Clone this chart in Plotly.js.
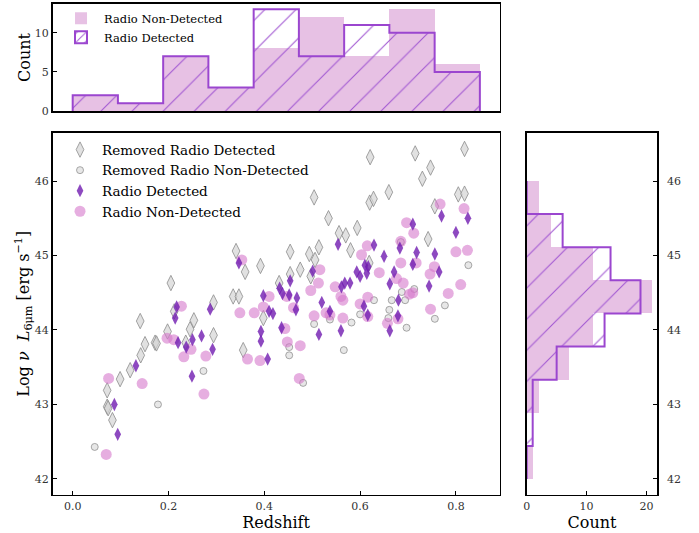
<!DOCTYPE html>
<html><head><meta charset="utf-8">
<script src="https://cdn.plot.ly/plotly-3.0.1.min.js"></script>
<style>html,body{margin:0;padding:0;background:#fff}</style>
</head><body><div id="chart" style="width:699px;height:533px"></div>
<script>
// Radio Detected (purple diamonds)
const detZ = [0.094,0.087,0.132,0.217,0.214,0.220,0.237,0.250,0.249,0.269,0.287,0.292,0.347,0.393,0.393,0.398,0.410,0.418,0.407,0.432,0.436,0.454,0.438,0.452,0.468,0.466,0.501,0.514,0.520,0.537,0.554,0.560,0.568,0.579,0.561,0.610,0.617,0.593,0.600,0.614,0.608,0.616,0.629,0.650,0.662,0.671,0.680,0.679,0.662,0.683,0.710,0.710,0.718,0.744,0.756,0.765,0.770,0.800,0.825];
const detL = [42.60,43.00,43.52,44.31,44.16,43.83,43.77,43.87,43.38,43.92,44.28,43.74,44.90,43.98,43.85,44.46,44.25,44.22,43.61,44.56,44.03,44.66,44.49,44.47,44.43,44.27,44.79,43.94,44.37,44.25,45.15,43.99,44.63,44.63,44.58,44.87,44.85,44.78,44.72,44.76,44.32,44.20,45.14,44.99,44.62,44.78,44.40,44.19,43.99,45.10,44.88,45.42,45.04,44.59,45.02,44.78,45.53,45.31,45.50];
// Radio Non-Detected (pink circles)
const nonZ = [0.070,0.075,0.145,0.227,0.197,0.211,0.247,0.232,0.274,0.278,0.353,0.349,0.379,0.398,0.410,0.365,0.391,0.443,0.448,0.475,0.473,0.447,0.461,0.504,0.529,0.497,0.513,0.516,0.548,0.564,0.564,0.615,0.603,0.600,0.616,0.640,0.657,0.685,0.685,0.697,0.712,0.717,0.676,0.690,0.703,0.746,0.755,0.747,0.767,0.817,0.800,0.824,0.784,0.810,0.537,0.560,0.616,0.679,0.710];
const nonL = [42.33,43.35,43.28,44.32,43.89,43.87,43.74,43.64,43.14,43.65,44.94,44.23,44.23,44.31,44.45,43.61,43.59,44.02,43.84,43.79,43.35,44.45,44.30,44.19,44.23,44.53,44.63,44.81,44.58,44.40,44.16,45.13,45.01,44.35,44.44,44.77,44.09,45.19,44.90,45.44,45.30,44.90,44.69,44.63,44.48,44.75,44.85,44.28,45.69,45.63,45.05,45.07,44.49,44.61,44.20,44.45,44.18,44.15,44.50];
// Removed Radio Detected (grey diamonds)
const remDetZ = [0.072,0.074,0.083,0.072,0.099,0.120,0.142,0.151,0.172,0.175,0.141,0.198,0.205,0.212,0.245,0.253,0.236,0.294,0.294,0.335,0.347,0.341,0.360,0.392,0.398,0.356,0.431,0.454,0.454,0.475,0.494,0.506,0.514,0.497,0.504,0.534,0.556,0.570,0.580,0.594,0.620,0.628,0.621,0.619,0.660,0.715,0.747,0.730,0.756,0.742,0.805,0.818,0.818];
const remDetL = [42.97,42.95,42.79,43.19,43.34,43.46,43.66,43.81,43.83,43.82,44.12,43.98,44.63,44.25,44.01,44.13,43.83,44.37,43.93,44.45,44.45,45.06,44.78,44.86,44.16,43.73,44.63,45.05,44.75,44.81,45.02,44.94,45.11,44.72,45.78,45.50,45.30,45.27,45.07,45.37,45.71,45.76,46.32,44.90,45.85,46.37,46.18,46.03,45.66,45.22,45.82,45.83,46.43];
// Removed Radio Non-Detected (grey circles)
const remNonZ = [0.046,0.178,0.273,0.452,0.452,0.481,0.504,0.537,0.582,0.566,0.629,0.600,0.661,0.659,0.666,0.694,0.697,0.687,0.713,0.777,0.756,0.826,0.685];
const remNonL = [42.43,43.00,43.45,43.77,43.66,43.29,44.08,44.14,44.10,43.73,44.40,44.21,44.27,44.16,44.40,44.40,44.03,44.51,44.55,44.33,44.15,44.87,45.18];

// Histograms (counts)
const zEdges = [0, 0.0944, 0.1889, 0.2833, 0.3778, 0.4722, 0.5667, 0.6611, 0.7556, 0.85];
const zCountsNon = [2, 1, 7, 3, 8, 12, 7, 13, 6];
const zCountsDet = [2, 1, 7, 3, 13, 7, 11, 10, 5];
const lEdges = [42, 42.444, 42.889, 43.333, 43.778, 44.222, 44.667, 45.111, 45.556, 46];
const lCountsNon = [1, 0, 2, 7, 11, 21, 11, 4, 2];
const lCountsDet = [0, 1, 1, 5, 13, 19, 14, 6, 0];

const SERIF = 'DejaVu Serif, serif';
const PINK_FILL = 'rgba(218,160,214,0.65)';
const OUTLINE = '#9b46cf';
const HATCH = '#a158d2';

function mids(e){ const m=[]; for(let i=0;i<e.length-1;i++) m.push((e[i]+e[i+1])/2); return m; }
function widths(e){ const w=[]; for(let i=0;i<e.length-1;i++) w.push(e[i+1]-e[i]); return w; }

// step outline for top histogram (hv)
const topStepX = [zEdges[0]], topStepY = [0];
for (let i=0;i<zCountsDet.length;i++){ topStepX.push(zEdges[i]); topStepY.push(zCountsDet[i]); }
topStepX.push(zEdges[zEdges.length-1]); topStepY.push(0);
// step outline for right histogram (vh)
const rStepX = [0], rStepY = [lEdges[0]];
for (let i=0;i<lCountsDet.length;i++){ rStepX.push(lCountsDet[i]); rStepY.push(lEdges[i]); }
rStepX.push(0); rStepY.push(lEdges[lEdges.length-1]);

const pattern = {shape:'/', size:22, solidity:0.05, fillmode:'replace'};

const traces = [
  {type:'scatter', mode:'markers', x:remDetZ, y:remDetL, name:'Removed Radio Detected', legend:'legend', legendrank:1,
   marker:{symbol:'diamond-tall', size:11, color:'rgba(212,212,212,0.7)', line:{color:'rgba(140,140,140,0.8)', width:1}}},
  {type:'scatter', mode:'markers', x:remNonZ, y:remNonL, name:'Removed Radio Non-Detected', legend:'legend', legendrank:2,
   marker:{symbol:'circle', size:7, color:'rgba(215,215,215,0.6)', line:{color:'rgba(140,140,140,0.75)', width:1}}},
  {type:'scatter', mode:'markers', x:nonZ, y:nonL, name:'Radio Non-Detected', legend:'legend', legendrank:4,
   marker:{symbol:'circle', size:11, color:'rgba(214,120,204,0.6)', line:{width:0}}},
  {type:'scatter', mode:'markers', x:detZ, y:detL, name:'Radio Detected', legend:'legend', legendrank:3,
   marker:{symbol:'diamond-tall', size:9.5, color:'rgba(112,28,176,0.8)', line:{width:0}}},

  // top histogram
  {type:'bar', x:mids(zEdges), y:zCountsNon, width:widths(zEdges), xaxis:'x2', yaxis:'y2',
   name:'Radio Non-Detected', legend:'legend2', legendrank:1, marker:{color:PINK_FILL, line:{width:0}}},
  {type:'bar', x:mids(zEdges), y:zCountsDet, width:widths(zEdges), xaxis:'x2', yaxis:'y2', showlegend:false,
   marker:{color:HATCH, line:{width:0}, pattern:pattern}},
  {type:'scatter', mode:'lines', x:topStepX, y:topStepY, xaxis:'x2', yaxis:'y2', showlegend:false,
   line:{shape:'hv', color:OUTLINE, width:2}, hoverinfo:'skip'},
  {type:'bar', x:[null], y:[null], xaxis:'x2', yaxis:'y2', name:'Radio Detected', legend:'legend2', legendrank:2,
   marker:{color:HATCH, line:{color:OUTLINE, width:2}, pattern:{shape:'/', size:8, solidity:0.15, fillmode:'replace'}}},

  // right histogram
  {type:'bar', orientation:'h', y:mids(lEdges), x:lCountsNon, width:widths(lEdges), xaxis:'x3', yaxis:'y3', showlegend:false,
   marker:{color:PINK_FILL, line:{width:0}}},
  {type:'bar', orientation:'h', y:mids(lEdges), x:lCountsDet, width:widths(lEdges), xaxis:'x3', yaxis:'y3', showlegend:false,
   marker:{color:HATCH, line:{width:0}, pattern:pattern}},
  {type:'scatter', mode:'lines', x:rStepX, y:rStepY, xaxis:'x3', yaxis:'y3', showlegend:false,
   line:{shape:'vh', color:OUTLINE, width:2}, hoverinfo:'skip'}
];

const axBase = {showline:true, linecolor:'#000', linewidth:1.5, mirror:true, ticks:'inside', ticklen:4, tickwidth:1, tickcolor:'#000',
  showgrid:false, zeroline:false, tickfont:{family:SERIF, size:11, color:'#333'}, automargin:false};

const layout = {
  width:699, height:533, margin:{l:0,r:0,t:0,b:0}, paper_bgcolor:'#fff', plot_bgcolor:'#fff',
  showlegend:true, barmode:'overlay', bargap:0,
  font:{family:SERIF, color:'#000'},
  xaxis: Object.assign({}, axBase, {domain:[0.0752,0.7146], range:[-0.042,0.891], anchor:'y',
    tickvals:[0,0.2,0.4,0.6,0.8], ticktext:['0.0','0.2','0.4','0.6','0.8'],
    title:{text:'Redshift', font:{family:SERIF, size:16, color:'#000'}, standoff:5}}),
  yaxis: Object.assign({}, axBase, {domain:[0.0713,0.7514], range:[41.785,46.651], anchor:'x',
    tickvals:[42,43,44,45,46],
    title:{text:'Log <i>ν</i>  <i>L</i><sub>6μm</sub> [erg s<sup>−1</sup>]', font:{family:SERIF, size:16, color:'#000'}, standoff:1}}),
  xaxis2: Object.assign({}, axBase, {domain:[0.0752,0.7146], range:[-0.042,0.891], anchor:'y2', showticklabels:false, ticks:''}),
  yaxis2: Object.assign({}, axBase, {domain:[0.7917,0.9925], range:[0,13.67], anchor:'x2', tickvals:[0,5,10],
    title:{text:'Count', font:{family:SERIF, size:16, color:'#000'}, standoff:0}}),
  xaxis3: Object.assign({}, axBase, {domain:[0.7535,0.9403], range:[0,21.8], anchor:'y3', tickvals:[0,10,20],
    title:{text:'Count', font:{family:SERIF, size:16, color:'#000'}, standoff:5}}),
  yaxis3: Object.assign({}, axBase, {domain:[0.0713,0.7514], range:[41.785,46.651], anchor:'x3', side:'right',
    tickvals:[42,43,44,45,46], ticklabelstandoff:6}),
  legend:{x:0.083, y:0.748, xanchor:'left', yanchor:'top', bgcolor:'rgba(0,0,0,0)', borderwidth:0, itemwidth:34,
    font:{family:SERIF, size:13.5, color:'#000'}, tracegroupgap:0},
  legend2:{x:0.083, y:0.993, xanchor:'left', yanchor:'top', bgcolor:'rgba(0,0,0,0)', borderwidth:0, itemwidth:36,
    font:{family:SERIF, size:11.5, color:'#000'}}
};

Plotly.newPlot('chart', traces, layout, {staticPlot:true, displayModeBar:false});
</script></body></html>
